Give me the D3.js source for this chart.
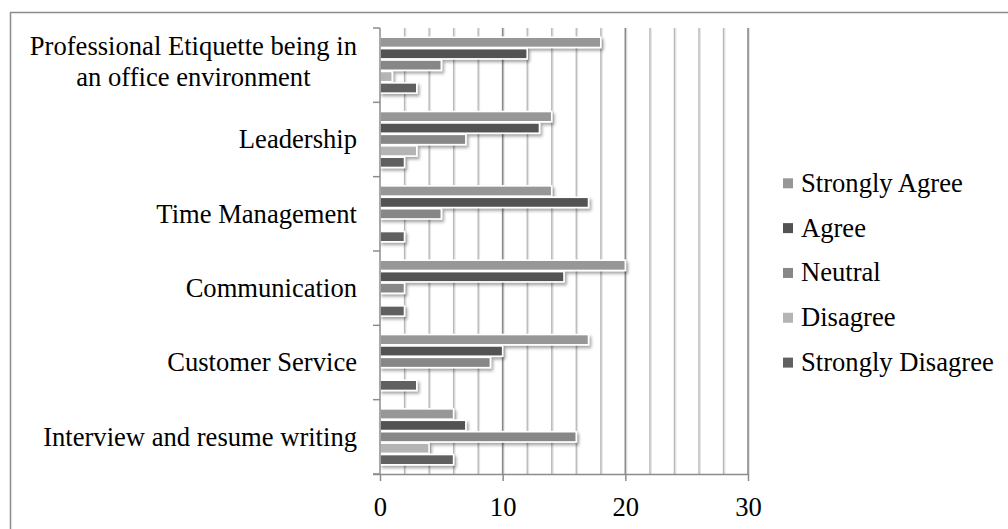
<!DOCTYPE html>
<html>
<head>
<meta charset="utf-8">
<script src="https://cdn.jsdelivr.net/npm/d3@7"></script>
<style>
  html, body { margin: 0; padding: 0; background: #fff; }
  svg { display: block; }
  text { font-family: "Liberation Serif", "Times New Roman", serif; fill: #000; }
</style>
</head>
<body>
<svg id="chart" width="1008" height="529"></svg>
<script>
// Skill areas, listed bottom-to-top as the survey sheet orders them
const categories = [
  "Interview and resume writing",
  "Customer Service",
  "Communication",
  "Time Management",
  "Leadership",
  "Professional Etiquette being in an office environment"
];
const categoryLines = [
  ["Interview and resume writing"],
  ["Customer Service"],
  ["Communication"],
  ["Time Management"],
  ["Leadership"],
  ["Professional Etiquette being in", "an office environment"]
];

const seriesNames = ["Strongly Agree", "Agree", "Neutral", "Disagree", "Strongly Disagree"];
const stronglyAgree    = [6, 17, 20, 14, 14, 18];
const agree            = [7, 10, 15, 17, 13, 12];
const neutral          = [16, 9, 2, 5, 7, 5];
const disagree         = [4, 0, 0, 0, 3, 1];
const stronglyDisagree = [6, 3, 2, 2, 2, 3];
const seriesValues = [stronglyAgree, agree, neutral, disagree, stronglyDisagree];
const seriesColors = ["#979797", "#535353", "#878787", "#b4b4b4", "#616161"];

const xTicks = [0, 10, 20, 30];

const FONT = 26.6;

const svg = d3.select("#chart");
const plot = { left: 380, right: 748, top: 28, bottom: 474 };

const defs = svg.append("defs");
const sh = defs.append("filter").attr("id", "barShadow")
  .attr("x", "-10%").attr("y", "-40%").attr("width", "130%").attr("height", "200%");
sh.append("feDropShadow").attr("dx", 2).attr("dy", 2.5).attr("stdDeviation", 1.6)
  .attr("flood-color", "#000").attr("flood-opacity", 0.35);

// outer chart frame
svg.append("rect")
  .attr("x", 10.5).attr("y", 12.5).attr("width", 1100).attr("height", 600)
  .attr("fill", "none").attr("stroke", "#8c8c8c").attr("stroke-width", 1.5);

const x = d3.scaleLinear().domain([0, 30]).range([plot.left, plot.right]);

// categories top-to-bottom
const y0 = d3.scaleBand()
  .domain(categories.slice().reverse())
  .range([plot.top, plot.bottom])
  .padding(0);

const y1 = d3.scaleBand()
  .domain(seriesNames)
  .range([9.2, y0.bandwidth() - 9.2])
  .paddingInner(0.1);

// vertical gridlines every 2 units
const gridVals = d3.range(2, 31, 2);
const grid = svg.append("g");
grid.selectAll("line.halo").data(gridVals).join("line")
  .attr("x1", d => x(d) + 1).attr("x2", d => x(d) + 1)
  .attr("y1", plot.top).attr("y2", plot.bottom)
  .attr("stroke", "#e4e4e4").attr("stroke-width", 2);
grid.selectAll("line.core").data(gridVals).join("line")
  .attr("x1", d => x(d)).attr("x2", d => x(d))
  .attr("y1", plot.top).attr("y2", plot.bottom)
  .attr("stroke", d => d % 10 === 0 ? "#8a8a8a" : "#b8b8b8")
  .attr("stroke-width", d => d % 10 === 0 ? 1.6 : 1.3);

// bars
const rows = [];
categories.forEach((c, ci) => {
  seriesNames.forEach((s, si) => {
    rows.push({ cat: c, series: s, value: seriesValues[si][ci], color: seriesColors[si] });
  });
});

svg.append("g").attr("filter", "url(#barShadow)")
  .selectAll("rect").data(rows.filter(r => r.value > 0)).join("rect")
  .attr("x", x(0))
  .attr("y", d => y0(d.cat) + y1(d.series))
  .attr("width", d => x(d.value) - x(0))
  .attr("height", y1.bandwidth())
  .attr("fill", d => d.color)
  .attr("stroke", "#fff")
  .attr("stroke-width", 1.6);

// category axis
const yAxis = svg.append("g");
yAxis.append("line")
  .attr("x1", plot.left).attr("x2", plot.left)
  .attr("y1", plot.top).attr("y2", plot.bottom)
  .attr("stroke", "#8c8c8c").attr("stroke-width", 1.5);
const boundaries = categories.map(c => y0(c)).concat([plot.bottom]);
yAxis.selectAll("line.tick").data(boundaries).join("line")
  .attr("x1", plot.left - 7).attr("x2", plot.left)
  .attr("y1", d => d).attr("y2", d => d)
  .attr("stroke", "#8c8c8c").attr("stroke-width", 1.5);

// category labels: lines of a wrapped label are centred on each other, block right-aligned
const labelRight = 357;
const lineGap = 31;
categories.forEach((c, ci) => {
  const lines = categoryLines[ci];
  const cy = y0(c) + y0.bandwidth() / 2;
  const g = svg.append("g");
  const texts = lines.map((ln, li) => g.append("text")
    .attr("font-size", FONT)
    .attr("y", cy + 8.8 + (li - (lines.length - 1) / 2) * lineGap - (lines.length > 1 ? 3 : 0))
    .text(ln));
  const widths = texts.map(t => t.node().getComputedTextLength());
  const maxW = d3.max(widths);
  const mid = labelRight - maxW / 2;
  texts.forEach(t => t.attr("x", mid).attr("text-anchor", "middle"));
});

// value axis
const xAxis = svg.append("g").attr("transform", `translate(0,${plot.bottom})`)
  .call(d3.axisBottom(x).tickValues(xTicks).tickSize(7).tickPadding(16).tickFormat(d3.format("d")));
xAxis.select(".domain").attr("stroke", "#8c8c8c").attr("stroke-width", 1.5)
  .attr("d", `M${plot.left - 7},0.5H${plot.right}`);
xAxis.selectAll(".tick line").attr("stroke", "#8c8c8c").attr("stroke-width", 1.5);
xAxis.selectAll(".tick text")
  .attr("font-family", "'Liberation Serif', serif")
  .attr("font-size", FONT).attr("fill", "#000");

// legend
const legend = svg.append("g");
const legendY = d3.scalePoint().domain(seriesNames).range([191.7, 371]);
seriesNames.forEach((s, si) => {
  legend.append("rect")
    .attr("x", 783).attr("y", legendY(s) - 13.4)
    .attr("width", 10).attr("height", 10)
    .attr("fill", seriesColors[si]);
  legend.append("text")
    .attr("x", 801).attr("y", legendY(s))
    .attr("font-size", FONT)
    .text(s);
});
</script>
</body>
</html>
